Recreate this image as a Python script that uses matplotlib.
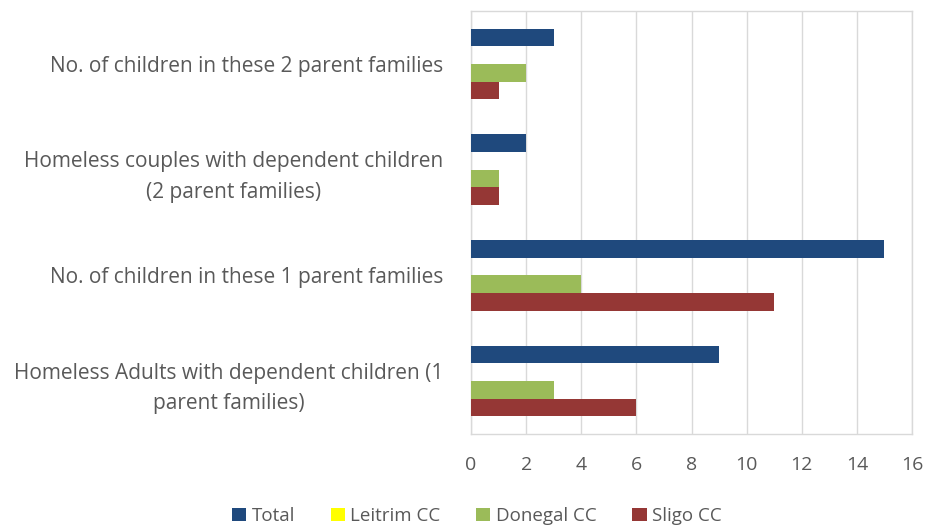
import numpy as np
import matplotlib.pyplot as plt

# categories listed bottom to top, as drawn
categories = [
    "Homeless Adults with dependent children (1\nparent families)",
    "No. of children in these 1 parent families",
    "Homeless couples with dependent children\n(2 parent families)",
    "No. of children in these 2 parent families",
]
series_names = ["Total", "Leitrim CC", "Donegal CC", "Sligo CC"]
total = [9, 15, 2, 3]
leitrim = [0, 0, 0, 0]
donegal = [3, 4, 1, 2]
sligo = [6, 11, 1, 1]
colors = ["#1f497d", "#ffff00", "#9bbb59", "#953735"]

plt.rcParams['font.family'] = ['Open Sans', 'DejaVu Sans']
text_col = "#595959"
grid_col = "#d9d9d9"

fig = plt.figure(figsize=(9.27, 5.31), dpi=100)
ax = fig.add_axes([471 / 927, 1 - 434 / 531, 441 / 927, 423 / 531])

y = np.arange(len(categories))
bh = 0.1667
all_vals = [total, leitrim, donegal, sligo]
for i, (name, vals, col) in enumerate(zip(series_names, all_vals, colors)):
    off = (1.5 - i) * bh
    ax.barh(y + off, vals, height=bh, color=col, label=name, zorder=3)

ax.set_xlim(0, 16)
ax.set_ylim(-0.5, len(categories) - 0.5)
ax.set_xticks(np.arange(0, 17, 2))
ax.set_yticks(y)
ax.set_yticklabels(categories, multialignment='center', linespacing=1.6)
ax.tick_params(axis='both', length=0, colors=text_col)
ax.tick_params(axis='x', pad=16, labelsize=14)
ax.tick_params(axis='y', pad=20, labelsize=15)
ax.grid(axis='x', color=grid_col, linewidth=1, zorder=0)
for s in ax.spines.values():
    s.set_color(grid_col)
    s.set_linewidth(1)

leg = fig.legend(loc='center', bbox_to_anchor=(477 / 927, 1 - 516 / 531), ncol=4,
                 frameon=False, fontsize=13.5, handlelength=0.75, handleheight=0.75,
                 handletextpad=0.3, columnspacing=1.9)
for t in leg.get_texts():
    t.set_color(text_col)

fig.savefig("out.png", dpi=100)
